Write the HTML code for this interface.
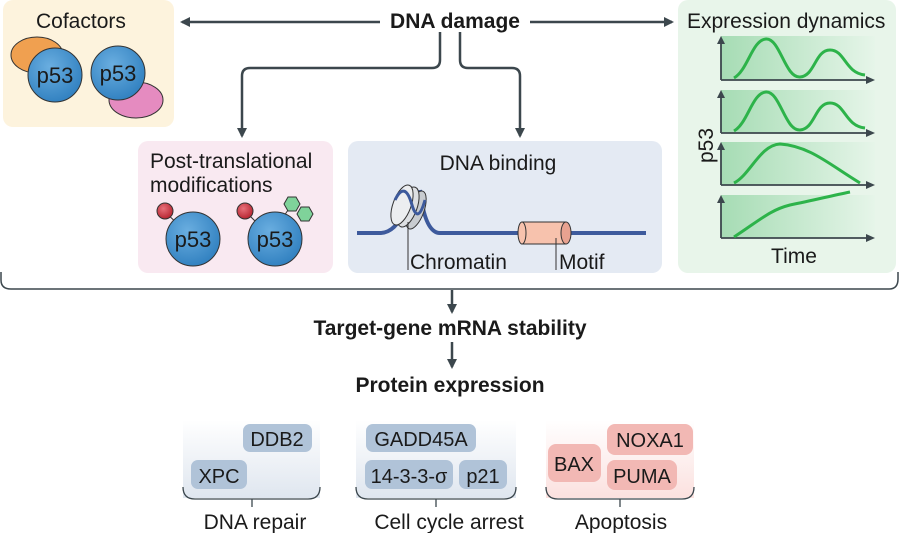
<!DOCTYPE html>
<html><head><meta charset="utf-8"><style>
html,body{margin:0;padding:0;background:#fff}
svg{display:block}
text{font-family:"Liberation Sans",sans-serif;fill:#1a1a1a}
</style></head><body>
<svg width="900" height="533" viewBox="0 0 900 533" xmlns="http://www.w3.org/2000/svg">
<defs>
<marker id="ah" markerWidth="10" markerHeight="10" refX="8" refY="5" orient="auto" markerUnits="userSpaceOnUse"><path d="M0,0 L10,5 L0,10 z" fill="#3c474d"/></marker>
<linearGradient id="gg" x1="0" x2="1"><stop offset="0" stop-color="#a6dcb4"/><stop offset="1" stop-color="#e6f5e9"/></linearGradient>
<linearGradient id="gb" x1="0" y1="0" x2="0" y2="1"><stop offset="0" stop-color="#fff"/><stop offset="1" stop-color="#dfe6ef"/></linearGradient>
<linearGradient id="gr" x1="0" y1="0" x2="0" y2="1"><stop offset="0" stop-color="#fff"/><stop offset="1" stop-color="#fbe1df"/></linearGradient>
<radialGradient id="bl" cx="0.4" cy="0.35" r="0.7"><stop offset="0" stop-color="#6aaee0"/><stop offset="1" stop-color="#2f7fbf"/></radialGradient>
<radialGradient id="rd" cx="0.4" cy="0.35" r="0.7"><stop offset="0" stop-color="#e8707a"/><stop offset="1" stop-color="#b3202c"/></radialGradient>
</defs>

<!-- Cofactors -->
<rect x="3" y="0" width="171" height="127" rx="10" fill="#fdf3dd"/>
<text x="36" y="28" font-size="21">Cofactors</text>
<ellipse cx="37" cy="55" rx="26" ry="18" fill="#f0a050" stroke="#333" stroke-width="1"/>
<circle cx="55" cy="75" r="27" fill="url(#bl)" stroke="#333"/>
<text x="55" y="83" font-size="22" text-anchor="middle">p53</text>
<ellipse cx="136" cy="100" rx="27" ry="18" fill="#e58bc0" stroke="#333"/>
<circle cx="118" cy="73" r="27" fill="url(#bl)" stroke="#333"/>
<text x="118" y="81" font-size="22" text-anchor="middle">p53</text>

<!-- DNA damage -->
<text x="455" y="28" font-size="21" font-weight="bold" text-anchor="middle">DNA damage</text>
<g stroke="#3c474d" stroke-width="2.5" fill="none">
<line x1="380" y1="22" x2="182" y2="22" marker-end="url(#ah)"/>
<line x1="530" y1="22" x2="672" y2="22" marker-end="url(#ah)"/>
<path d="M440,32 V60 Q440,68 432,68 H250 Q242,68 242,76 V136" marker-end="url(#ah)"/>
<path d="M460,32 V60 Q460,68 468,68 H512 Q520,68 520,76 V136" marker-end="url(#ah)"/>
</g>

<!-- PTM -->
<rect x="138" y="141" width="195" height="132" rx="10" fill="#f9e9f1"/>
<text x="150" y="168" font-size="21">Post-translational</text>
<text x="150" y="192" font-size="21">modifications</text>
<line x1="165" y1="212" x2="180" y2="226" stroke="#333"/>
<circle cx="165" cy="211" r="8" fill="url(#rd)" stroke="#333"/>
<circle cx="193" cy="239" r="27" fill="url(#bl)" stroke="#333"/>
<text x="193" y="247" font-size="22" text-anchor="middle">p53</text>
<line x1="246" y1="212" x2="260" y2="226" stroke="#333"/>
<line x1="290" y1="207" x2="284" y2="216" stroke="#333"/>
<circle cx="245" cy="211" r="8" fill="url(#rd)" stroke="#333"/>
<circle cx="275" cy="239" r="27" fill="url(#bl)" stroke="#333"/>
<text x="275" y="247" font-size="22" text-anchor="middle">p53</text>
<polygon points="284,204 288,197 296,197 300,204 296,211 288,211" fill="#7fd39a" stroke="#333"/>
<polygon points="297,214 301,207 309,207 313,214 309,221 301,221" fill="#7fd39a" stroke="#333"/>

<!-- DNA binding -->
<rect x="348" y="141" width="314" height="132" rx="10" fill="#e4eaf3"/>
<text x="498" y="170" font-size="21" text-anchor="middle">DNA binding</text>
<path d="M357,233 H380 Q395,233 405,210 M420,190 Q425,233 440,233 H646" stroke="#3d5a9c" stroke-width="4" fill="none"/>
<ellipse cx="416" cy="210" rx="8" ry="20" transform="rotate(20 416 210)" fill="#c8ccd0" stroke="#333"/>
<ellipse cx="408" cy="207" rx="9" ry="21" transform="rotate(20 408 207)" fill="#dde0e3" stroke="#333"/>
<ellipse cx="402" cy="205" rx="9" ry="21" transform="rotate(20 402 205)" fill="#eceef0" stroke="#333"/>
<path d="M395,200 Q405,180 412,205 Q418,225 425,200" stroke="#3d5a9c" stroke-width="3" fill="none"/>
<rect x="522" y="222" width="44" height="22" fill="#f7c2ad" stroke="#333"/>
<ellipse cx="522" cy="233" rx="4" ry="11" fill="#f7c2ad" stroke="#333"/>
<ellipse cx="566" cy="233" rx="5" ry="11" fill="#e8a290" stroke="#333"/>
<line x1="408" y1="222" x2="408" y2="270" stroke="#333"/>
<line x1="556" y1="238" x2="556" y2="270" stroke="#333"/>
<text x="410" y="269" font-size="21">Chromatin</text>
<text x="559" y="269" font-size="21">Motif</text>

<!-- Expression dynamics -->
<rect x="678" y="0" width="218" height="273" rx="10" fill="#e8f5ea"/>
<text x="687" y="28" font-size="21">Expression dynamics</text>
<text x="0" y="0" font-size="21" transform="translate(713 163) rotate(-90)">p53</text>
<g>
<rect x="721" y="36" width="154" height="44" fill="url(#gg)"/>
<rect x="721" y="90" width="154" height="43" fill="url(#gg)"/>
<rect x="721" y="142" width="154" height="43" fill="url(#gg)"/>
<rect x="721" y="195" width="154" height="43" fill="url(#gg)"/>
</g>
<g stroke="#3c474d" stroke-width="1.8" fill="none">
<path d="M721,80 V40 M721,80 H868"/><path d="M721,133 V94 M721,133 H868"/><path d="M721,185 V146 M721,185 H868"/><path d="M721,238 V199 M721,238 H868"/>
</g>
<g fill="#3c474d">
<path d="M717,44 L721,36 L725,44z M866,76 L875,80 L866,84z"/>
<path d="M717,98 L721,90 L725,98z M866,129 L875,133 L866,137z"/>
<path d="M717,150 L721,142 L725,150z M866,181 L875,185 L866,189z"/>
<path d="M717,203 L721,195 L725,203z M866,234 L875,238 L866,242z"/>
</g>
<g stroke="#2db34a" stroke-width="3" fill="none">
<path d="M734,78 C748,70 752,40 766,39 C780,38 785,78 800,77 C815,76 815,50 830,50 C845,50 845,73 865,75"/>
<path d="M734,131 C748,123 752,93 766,92 C780,91 785,131 800,130 C815,129 815,103 830,103 C845,103 845,126 865,128"/>
<path d="M734,183 C750,175 760,145 780,144 C810,146 830,165 860,183"/>
<path d="M734,237 C760,220 770,210 790,205 C815,200 830,196 850,192"/>
</g>
<text x="794" y="263" font-size="21" text-anchor="middle">Time</text>

<!-- outer bracket -->
<path d="M1,272 V280 Q1,289 11,289 H889 Q898,289 898,279 V272" stroke="#3c474d" stroke-width="1.5" fill="none"/>
<g stroke="#3c474d" stroke-width="2.5" fill="none">
<line x1="452" y1="290" x2="452" y2="312" marker-end="url(#ah)"/>
<line x1="452" y1="342" x2="452" y2="367" marker-end="url(#ah)"/>
</g>
<text x="450" y="335" font-size="21" font-weight="bold" text-anchor="middle">Target-gene mRNA stability</text>
<text x="450" y="392" font-size="21" font-weight="bold" text-anchor="middle">Protein expression</text>

<!-- bottom groups -->
<rect x="183" y="420" width="137" height="78" fill="url(#gb)"/>
<rect x="356" y="420" width="160" height="78" fill="url(#gb)"/>
<rect x="546" y="420" width="148" height="78" fill="url(#gr)"/>
<g stroke="#3c474d" stroke-width="1.3" fill="none">
<path d="M183,487 Q183,499 195,499 H308 Q320,499 320,487 M252,499 V507"/>
<path d="M356,487 Q356,499 368,499 H504 Q516,499 516,487 M436,499 V507"/>
<path d="M546,487 Q546,499 558,499 H682 Q694,499 694,487 M620,499 V507"/>
</g>
<g fill="#b0c3d8">
<rect x="243" y="424" width="69" height="28" rx="7"/>
<rect x="191" y="460" width="56" height="29" rx="7"/>
<rect x="366" y="424" width="110" height="28" rx="7"/>
<rect x="365" y="460" width="88" height="29" rx="7"/>
<rect x="459" y="460" width="48" height="29" rx="7"/>
</g>
<g fill="#f2b8b4">
<rect x="548" y="444" width="53" height="38" rx="8"/>
<rect x="607" y="424" width="86" height="31" rx="8"/>
<rect x="607" y="460" width="70" height="30" rx="8"/>
</g>
<g font-size="20" text-anchor="middle">
<text x="277" y="446">DDB2</text>
<text x="219" y="483">XPC</text>
<text x="421" y="446">GADD45A</text>
<text x="409" y="483">14-3-3-σ</text>
<text x="483" y="483">p21</text>
<text x="574" y="471">BAX</text>
<text x="650" y="447">NOXA1</text>
<text x="642" y="483">PUMA</text>
</g>
<g font-size="21" text-anchor="middle">
<text x="255" y="529">DNA repair</text>
<text x="449" y="529">Cell cycle arrest</text>
<text x="621" y="529">Apoptosis</text>
</g>
</svg>
</body></html>
